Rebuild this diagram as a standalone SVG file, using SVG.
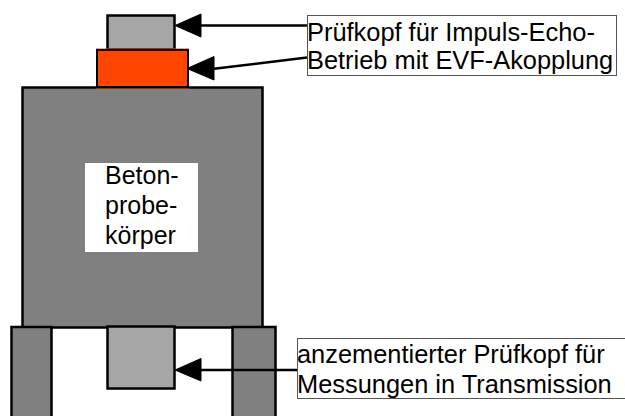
<svg xmlns="http://www.w3.org/2000/svg" width="625" height="416" viewBox="0 0 625 416">
<style>
.dark{fill:#808080;stroke:#000;stroke-width:2.5}
.probe{fill:#a6a6a6;stroke:#000;stroke-width:2.5}
.tb{fill:#fff;stroke:#555;stroke-width:1}
.lbl{font-family:"Liberation Sans",Arial,sans-serif;font-size:25.4px;fill:#000}
.lbl2{font-family:"Liberation Sans",Arial,sans-serif;font-size:25px;fill:#000}
.ln{stroke:#000;stroke-width:2.5;fill:none}
</style>
<rect width="625" height="416" fill="#fff"/>
<g id="body"><rect class="dark" x="22.500" y="87.500" width="240" height="240"/>
<rect x="85" y="163" width="113" height="89" fill="#fff"/>
<text class="lbl2" x="105" y="184">Beton-</text><text class="lbl2" x="105" y="214">probe-</text><text class="lbl2" x="105" y="244">körper</text></g>
<g id="leg-left"><rect class="dark" x="11.500" y="327" width="40" height="95"/></g>
<g id="leg-right"><rect class="dark" x="232.500" y="327" width="43" height="95"/></g>
<g id="probe-top"><rect class="probe" x="107.500" y="15.500" width="67" height="34"/></g>
<g id="probe-evf"><rect x="96" y="48.500" width="93" height="40" fill="#ff4500"/><rect x="97" y="50" width="91" height="37" fill="none" stroke="#000" stroke-width="2"/></g>
<g id="probe-bottom"><rect class="probe" x="107.500" y="326.500" width="67" height="62"/></g>
<g id="label-top"><rect class="tb" x="307.500" y="15.500" width="309" height="60"/>
<text class="lbl" x="307" y="40.500">Prüfkopf für Impuls-Echo-</text><text class="lbl" x="307" y="69">Betrieb mit EVF-Akopplung</text></g>
<g id="label-bottom"><rect class="tb" x="297.500" y="338.500" width="340" height="60"/>
<text class="lbl" x="297" y="363">anzementierter Prüfkopf für</text><text class="lbl" x="297" y="393">Messungen in Transmission</text></g>
<g id="connectors">
<path class="ln" d="M307 25.500H200"/><path d="M175 25.500L201 14V37Z" stroke="#000"/>
<path class="ln" d="M307 57.500L212 69"/><path d="M187 68.500L214 56.500V80Z" stroke="#000"/>
<path class="ln" d="M297 370H198"/><path d="M175 370L201 358.500V381Z" stroke="#000"/>
</g>
</svg>
